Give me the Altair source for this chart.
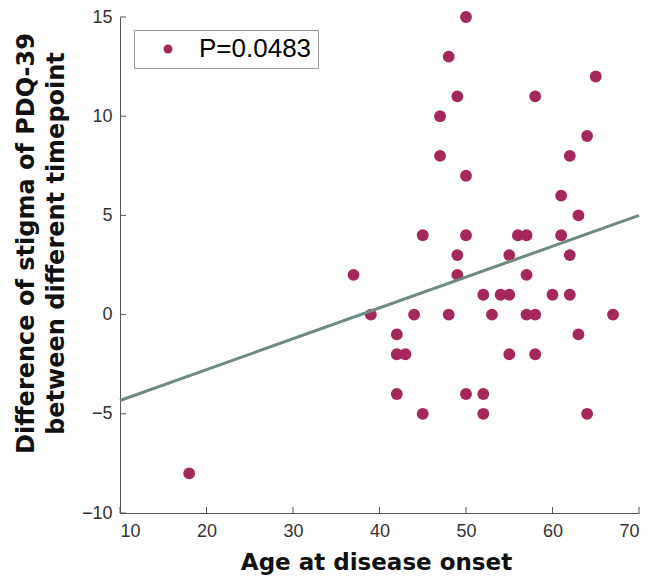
import altair as alt
import pandas as pd

# Data
age = [50, 48, 49, 47, 58, 65, 64, 47, 62, 50, 61, 63, 45, 50, 56, 57, 61, 49, 55, 62,
       37, 49, 57, 52, 54, 55, 60, 62, 39, 44, 48, 53, 57, 58, 67, 42, 63, 42, 43, 55,
       58, 42, 50, 52, 45, 52, 64, 18]
diff = [15, 13, 11, 10, 11, 12, 9, 8, 8, 7, 6, 5, 4, 4, 4, 4, 4, 3, 3, 3,
        2, 2, 2, 1, 1, 1, 1, 1, 0, 0, 0, 0, 0, 0, 0, -1, -1, -2, -2, -2,
        -2, -4, -4, -4, -5, -5, -5, -8]
series_label = "P=0.0483"
fit_x = [10, 70]
fit_y = [-4.33, 5.0]
x_ticks = [10, 20, 30, 40, 50, 60, 70]
y_ticks = [-10, -5, 0, 5, 10, 15]

W, H = 519, 496
PT_COLOR = "#A6275C"
LINE_COLOR = "#6E8B80"
AXIS_COLOR = "#555555"
FONT = "Liberation Sans"
TFONT = "DejaVu Sans"

pts = pd.DataFrame({"age": age, "diff": diff, "s": [series_label] * len(age)})
fit = pd.DataFrame({"age": fit_x, "diff": fit_y})
xt = pd.DataFrame({"age": x_ticks})
yt = pd.DataFrame({"diff": y_ticks})

xscale = alt.Scale(domain=[10, 70], nice=False, zero=False)
yscale = alt.Scale(domain=[-10, 15], nice=False, zero=False)

x_axis = alt.Axis(values=x_ticks, title="Age at disease onset", tickSize=0,
                  labelPadding=9, labelFontSize=18, labelColor="#333333",
                  labelFont=FONT, domainColor=AXIS_COLOR, grid=False,
                  titleFont=TFONT, titleFontSize=23, titleFontWeight="bold",
                  titleColor="#111111", titleX=256, titleY=56,
                  titleBaseline="alphabetic", titleAlign="center")
y_axis = alt.Axis(values=y_ticks, title=["Difference of stigma of PDQ-39",
                                         "between different timepoint"],
                  tickSize=0, labelPadding=8, labelFontSize=18,
                  labelColor="#333333", labelFont=FONT, domainColor=AXIS_COLOR,
                  grid=False, titleFont=TFONT, titleFontSize=24,
                  titleFontWeight="bold", titleColor="#111111",
                  titleLineHeight=30, titleAngle=270, titleX=-94, titleY=226,
                  titleAlign="center", titleBaseline="middle")

points = alt.Chart(pts).mark_circle(size=140, opacity=1).encode(
    x=alt.X("age:Q", scale=xscale, axis=x_axis),
    y=alt.Y("diff:Q", scale=yscale, axis=y_axis),
    color=alt.Color("s:N", scale=alt.Scale(range=[PT_COLOR]),
                    legend=alt.Legend(title=None, orient="none", legendX=14, legendY=13,
                                      padding=6, symbolType="circle", symbolSize=80,
                                      symbolOffset=15, labelOffset=18,
                                      labelFontSize=26, labelFont=FONT,
                                      labelColor="#000000", strokeColor="#999999",
                                      fillColor="white", symbolStrokeWidth=0)),
)

line = alt.Chart(fit).mark_line(color=LINE_COLOR, strokeWidth=3).encode(
    x=alt.X("age:Q", scale=xscale, axis=x_axis),
    y=alt.Y("diff:Q", scale=yscale, axis=y_axis),
)

xticks = alt.Chart(xt).mark_rule(color=AXIS_COLOR, strokeWidth=1).encode(
    x=alt.X("age:Q", scale=xscale, axis=x_axis),
    y=alt.value(H),
    y2=alt.value(H - 6),
)

yticks = alt.Chart(yt).mark_rule(color=AXIS_COLOR, strokeWidth=1).encode(
    y=alt.Y("diff:Q", scale=yscale, axis=y_axis),
    x=alt.value(0),
    x2=alt.value(6),
)

chart = alt.layer(points, line, xticks, yticks).properties(
    width=W, height=H,
    autosize=alt.AutoSizeParams(type="none"),
    padding={"left": 120, "top": 17, "right": 11, "bottom": 64},
    background="white",
).configure_view(stroke=None)

chart.save("out.html", embed_options={"renderer": "svg", "actions": False})
